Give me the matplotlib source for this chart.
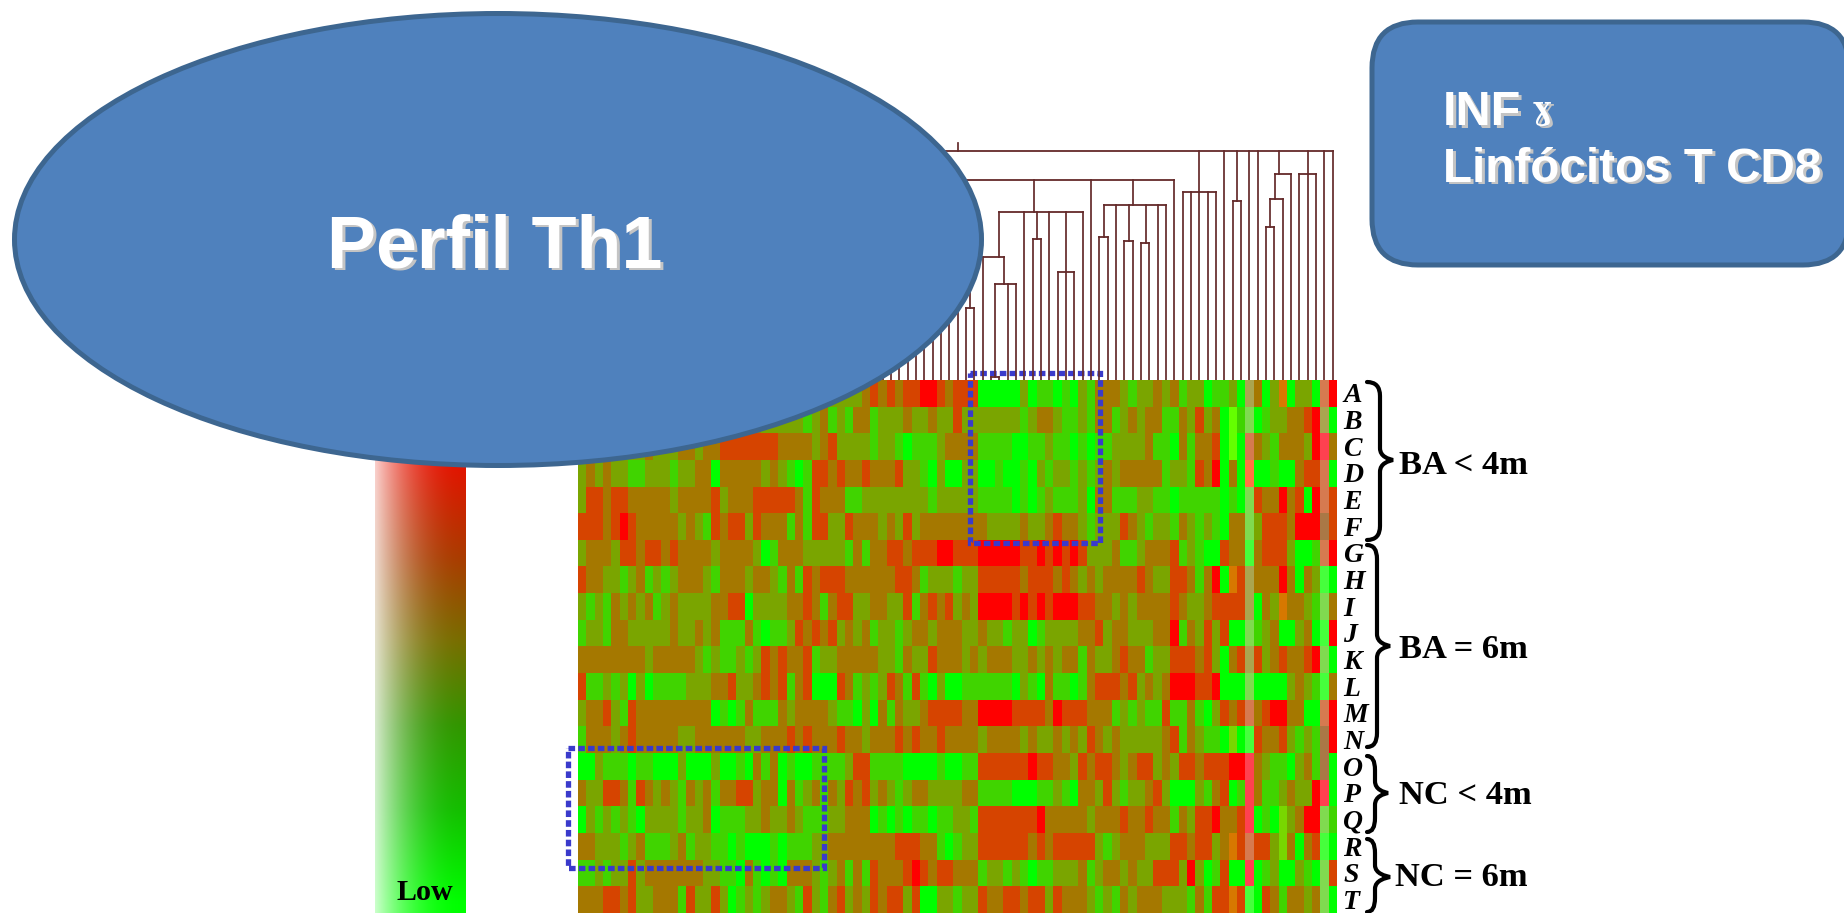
import numpy as np
import matplotlib
matplotlib.use("Agg")
import matplotlib.pyplot as plt
from matplotlib.colors import ListedColormap
from matplotlib.patches import Ellipse, FancyBboxPatch, PathPatch, Rectangle
from matplotlib.path import Path

W, H = 1844, 913

row_labels = list("ABCDEFGHIJKLMNOPQRST")

# one char per cell; 0 = green ... 5 = red, letters are the washed out columns
heat_rows = [
    "23232323232323232323232 22222222222343434455434 44000002011010213332122 32312201120a302h0220c5",
    "23232323232323232323232 22221231213312223223224 22222221233211213312323 311324230g1b01223345a0",
    "23232122322233233444444 43333234222212210111233 33111100112110101122223 110313340g0c32133325d3",
    "23232211222122330333332 32101443433433342210200 22001001021221212323333 31221435030k00100344c0",
    "24434433333233334233344 44431433311222222221222 22111101012111203311122 11011111010b43353405c4",
    "44434543333323214344243 33131442243332324233333 33322223223433212224321 22132121033b24443555f4",
    "23332443443433332333320 13332222213133443444554 44555554454545422231123 33412100433e34442001c5",
    "43322123121233321333233 21314344433333344312221 22444443444343232333343 224431350h4a33353032e0",
    "21213232312322223344022 22334313442233224134342 32555545454555443323233 33432234444a032h3321b3",
    "12213322222322323111310 11243434232312212332333 22322122012222334233222 33513242400b12300230e5",
    "33333333233333212112124 34334122333332213224333 23233322323233132234331 22444342034a42343345b0",
    "41121202011112223342234 34134000431212431410200 11111102103110134443423 23555445000b00002321e3",
    "23342143333333330101311 13233332110203132234444 33555544443544433312121 14113102434c34553300c5",
    "13332343333322333333223 33434333433233343433433 33233332322323243232222 234132110i0e43342121f5",
    "00211101100020002001031 30100111124411110000100 11444444544332434432344 23244344455d32110231f0",
    "32244314323213231334423 30312313243423212332222 33111100011210332421223 42000213401d31123225d0",
    "02121210222212230111223 22321112233301010110112 21444444453333323334334 33132445334d010i2355b1",
    "33222123111231221101000 10111223333333344433101 22444444343444442123332 224434423h4c442i3034e0",
    "11212242333333322110310 10333212313143334543443 33122121011222312332322 44425201400d01200210b4",
    "33344342233314224201212 33214213423243442400221 22433443442433321213233 322213144h4e04313323b0",
]
heat_rows = [r.replace(" ", "") for r in heat_rows]

level_chars = "012345abcdefghik"
level_colors = ["#00ff00", "#40d400", "#7aa500", "#a57800", "#d64400", "#ff0000",
                "#aaa550", "#80da50", "#d67a50", "#ff4150", "#46ff3c", "#aa7846",
                "#64ff00", "#d77800", "#78d700", "#ff7341"]

groups = ["BA < 4m", "BA = 6m", "NC < 4m", "NC = 6m"]

# dendrogram, in column numbers and heights above the heatmap
# bars: height, left, right
dendro_bars = [
    (229, 30, 90), (205.7, 83.1, 85), (180.7, 82.5, 84), (153.3, 82, 83), (205.7, 86, 88),
    (187.7, 72, 76), (178.7, 78, 79), (200, 30, 71), (168, 50, 60), (141, 54, 55),
    (108.3, 57, 59), (122.7, 46.5, 50.6), (95.7, 49.5, 52), (3.3, 49, 50), (72.3, 46, 47),
    (175, 62.5, 70), (142.7, 62, 63), (139, 65, 66), (137, 67, 68),
]
# legs: column, top, bottom
dendro_legs = [
    (45, 237, 229), (74, 229, 187.7), (77, 229, 0), (78.5, 229, 178.7), (80, 229, 0), (81, 229, 0),
    (83.55, 229, 205.7), (87, 229, 205.7), (89, 229, 0), (90, 229, 0),
    (83.1, 205.7, 180.7), (85, 205.7, 0), (82.5, 180.7, 153.3), (84, 180.7, 0), (82, 153.3, 0), (83, 153.3, 0),
    (86, 205.7, 0), (87, 205.7, 0), (88, 205.7, 0),
    (72, 187.7, 0), (73, 187.7, 0), (74, 187.7, 0), (75, 187.7, 0), (76, 187.7, 0),
    (78, 178.7, 0), (79, 178.7, 0),
    (54.1, 200, 168), (61, 200, 0), (66, 200, 175), (71, 200, 0),
    (50, 168, 122.7), (53, 168, 0), (54.5, 168, 141), (56, 168, 0), (58, 168, 0), (60, 168, 0),
    (54, 141, 0), (55, 141, 0), (57, 108.3, 0), (59, 108.3, 0),
    (48, 122.7, 0), (46.5, 122.7, 72.3), (50.6, 122.7, 95.7),
    (49.5, 95.7, 3.3), (51, 95.7, 0), (52, 95.7, 0), (49, 3.3, 0), (50, 3.3, 0), (46, 72.3, 0), (47, 72.3, 0),
    (62.5, 175, 142.7), (64, 175, 0), (65.6, 175, 139), (67.6, 175, 137), (69, 175, 0), (70, 175, 0),
    (62, 142.7, 0), (63, 142.7, 0), (65, 139, 0), (66, 139, 0), (67, 137, 0), (68, 137, 0),
]
hidden_leaves = list(range(0, 46))

# highlighted blocks in cell units: x0, y0, x1, y1
boxes = [(47.0, -0.76, 62.6, 5.6), (-1.2, 13.3, 29.5, 17.8)]


def px_axes(fig, x0, y0, x1, y1):
    return fig.add_axes([x0 / W, (H - y1) / H, (x1 - x0) / W, (y1 - y0) / H])


def brace(ax, x0, xs, xt, y0, y1, ym):
    """
    Curly brace opening left, point at (xt, ym).
    """
    r = 9
    verts = [(x0, y0), (xs, y0), (xs, y0 + r + 5),
             (xs, ym - r - 3),
             (xs, ym - 3), (xt - 4, ym - 1), (xt, ym),
             (xt - 4, ym + 1), (xs, ym + 3), (xs, ym + r + 3),
             (xs, y1 - r - 5),
             (xs, y1), (x0, y1)]
    codes = [Path.MOVETO, Path.CURVE3, Path.CURVE3, Path.LINETO,
             Path.CURVE4, Path.CURVE4, Path.CURVE4,
             Path.CURVE4, Path.CURVE4, Path.CURVE4, Path.LINETO,
             Path.CURVE3, Path.CURVE3]
    ax.add_patch(PathPatch(Path(verts, codes), fc="none", ec="black", lw=3.0, capstyle="round"))


def shadow_text(ax, x, y, s, size, **kw):
    ax.text(x + 2.5, y + 2.5, s, color="#c4c4c4", fontsize=size, **kw)
    ax.text(x, y, s, color="white", fontsize=size, **kw)


fig = plt.figure(figsize=(W / 100, H / 100), dpi=100, facecolor="white")

# colour key
key_ax = px_axes(fig, 375, 420, 466, 913)
ys = np.linspace(0, 1, 300)
red = np.interp(ys, [0, 0.28, 0.45, 0.62, 0.79, 0.98], [255, 170, 120, 50, 20, 0])
green = np.interp(ys, [0, 0.28, 0.45, 0.62, 0.79, 0.98], [0, 60, 110, 150, 190, 255])
right_edge = np.stack([red, green, np.zeros_like(red)], axis=1)
xs = np.linspace(0, 1, 120)
fade = 0.8 * (1 - xs) ** 2.2
key_img = np.zeros((300, 120, 3))
for c in range(3):
    key_img[:, :, c] = right_edge[:, c][:, None] * (1 - fade) + 255 * fade
key_ax.imshow(key_img / 255, aspect="auto", interpolation="bilinear")
key_ax.axis("off")

# heatmap
heat_ax = px_axes(fig, 578.3, 380, 1337, 913)
cells = np.array([[level_chars.index(c) for c in r] for r in heat_rows])
heat_ax.imshow(cells, cmap=ListedColormap(level_colors), vmin=-0.5, vmax=len(level_colors) - 0.5,
               aspect="auto", interpolation="nearest")
heat_ax.axis("off")

for k, lab in enumerate(row_labels):
    heat_ax.text(90.5 + 0.72, k + 0.1, lab, family="Liberation Serif", weight="bold", style="italic",
                 fontsize=20, ha="left", va="center", clip_on=False)

for x0, y0, x1, y1 in boxes:
    heat_ax.add_patch(Rectangle((x0 - 0.5, y0), x1 - x0, y1 - y0, fc="none", ec="#3a3acb", lw=3.8,
                                ls=(0, (1.25, 0.6)), clip_on=False, zorder=5))

# dendrogram
den_ax = px_axes(fig, 578.3, 140, 1337, 380)
den_ax.set_xlim(-0.5, 90.5)
den_ax.set_ylim(0, 240)
den_ax.axis("off")
den_color = "#642a2a"
for h, a, b in dendro_bars:
    den_ax.plot([a, b], [h, h], color=den_color, lw=1.3, solid_capstyle="projecting")
for x, top_h, bottom in dendro_legs:
    den_ax.plot([x, x], [bottom, top_h], color=den_color, lw=1.25)
for x in hidden_leaves:
    den_ax.plot([x, x], [0, 200], color=den_color, lw=1.25)

# shapes and text on top
top = fig.add_axes([0, 0, 1, 1], zorder=10)
top.set_xlim(0, W)
top.set_ylim(H, 0)
top.axis("off")
top.patch.set_alpha(0)

top.add_patch(Ellipse((498, 239.5), 967, 452, fc="#4f81bd", ec="#3d6690", lw=3.6))
shadow_text(top, 495, 248, "Perfil Th1", 53, family="Liberation Sans", weight="bold", ha="center", va="center")

top.add_patch(FancyBboxPatch((1372, 22), 477, 243, boxstyle="round,pad=0,rounding_size=46",
                             fc="#4f81bd", ec="#3d6690", lw=3.6))
shadow_text(top, 1443, 125, "INF", 35, family="Liberation Sans", weight="bold", ha="left", va="baseline")
shadow_text(top, 1533, 119, "\u0263", 22, family="DejaVu Serif", weight="bold", ha="left", va="baseline")
shadow_text(top, 1443, 182, "Linf\u00f3citos T CD8", 34.3, family="Liberation Sans", weight="bold", ha="left", va="baseline")

top.text(425, 892, "Low", family="Liberation Serif", weight="bold", fontsize=21.6, ha="center", va="center")

brace(top, 1367, 1380, 1393, 382, 540, 460)
brace(top, 1367, 1377, 1390, 545, 747, 646)
brace(top, 1367, 1375, 1388, 756, 832, 793)
brace(top, 1367, 1375, 1390, 839, 912, 877)

label_x = [1399, 1399, 1399, 1395]
label_y = [465, 650, 796, 878]
for g, x, y in zip(groups, label_x, label_y):
    top.text(x, y, g, family="Liberation Serif", weight="bold", fontsize=24.8, ha="left", va="center")

fig.savefig("out.png", dpi=100)
